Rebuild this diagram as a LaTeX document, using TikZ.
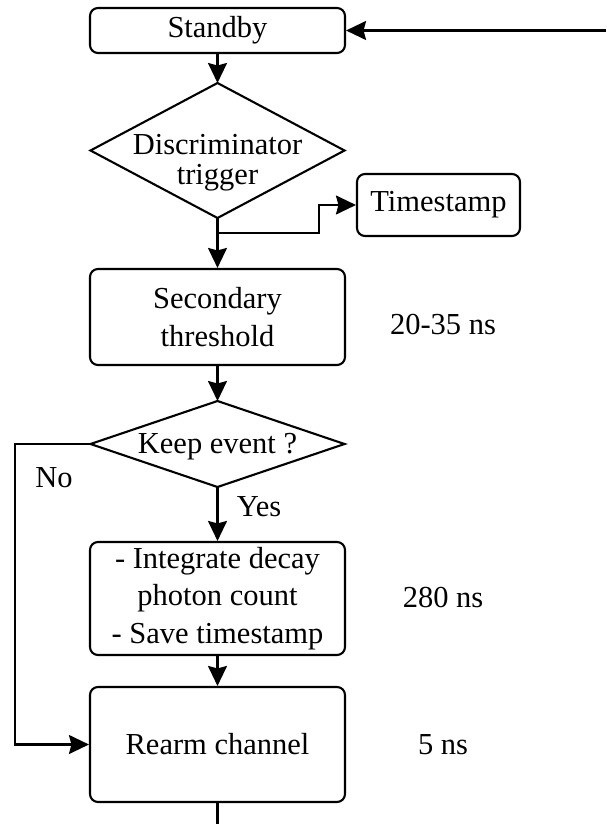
\documentclass[tikz,border=0pt]{standalone}
\usepackage{fontspec}
\setmainfont{Liberation Serif}
\usetikzlibrary{shapes.geometric,arrows.meta}
\begin{document}
\begin{tikzpicture}[x=1pt,y=-1pt,
  font=\fontsize{30.5}{37.5}\selectfont,
  line width=2.1pt,
  >={Stealth[length=20pt,width=19pt,inset=2.5pt]},
  box/.style={draw,rounded corners=8pt,minimum width=255pt,align=center,inner sep=0pt},
  decision/.style={draw,diamond,inner sep=0pt,outer sep=0pt},
  dtext/.style={inner sep=0pt,align=center,font=\fontsize{30.5}{30}\selectfont},
  note/.style={inner sep=0pt}]
\useasboundingbox (0,0) rectangle (606,824);

% process boxes
\node[box,minimum height=45pt] (standby) at (217.5,30.5) {Standby};
\node[box,minimum width=163pt,minimum height=62pt] (timestamp) at (438.5,205) {Timestamp};
\node[box,minimum height=96pt] (secondary) at (217.5,317) {Secondary\\threshold};
\node[box,minimum height=113pt] (integ) at (217.5,598.5) {- Integrate decay\\photon count\\- Save timestamp};
\node[box,minimum height=115pt] (rearm) at (217.5,744.5) {Rearm channel};

% decisions
\node[decision,minimum width=254pt,minimum height=135pt] (disc) at (217.5,150.5) {};
\node[dtext] (disctext) at (217.5,163) {Discriminator\\trigger};
\node[decision,minimum width=254pt,minimum height=86pt] (keep) at (217.5,444) {};
\node[dtext] (keeptext) at (217.5,447) {Keep event ?};

% timing notes
\node[note] (t1) at (443,325) {20-35 ns};
\node[note] (t2) at (443,598) {280 ns};
\node[note] (t3) at (443,745) {5 ns};

% branch labels
\node[note] (yes) at (259,507) {Yes};
\node[note] (no) at (54,478) {No};

% helper points
\coordinate (loopin) at (606,30.5);
\coordinate (loopout) at (217.5,824);
\coordinate (split) at (217.5,233);
\coordinate (jog) at (319,233);
\coordinate (noturn) at (15,444);

% connectors
\draw[->] (loopin) -- (standby.east);
\draw[->] (standby.south) -- (disc.north);
\draw[->] (disc.south) -- (secondary.north);
\draw[->] (split) -- (jog) |- (timestamp.west);
\draw[->] (secondary.south) -- (keep.north);
\draw[->] (keep.south) -- (integ.north);
\draw[->] (integ.south) -- (rearm.north);
\draw[->] (keep.west) -- (noturn) |- (rearm.west);
\draw (rearm.south) -- (loopout);
\end{tikzpicture}
\end{document}
